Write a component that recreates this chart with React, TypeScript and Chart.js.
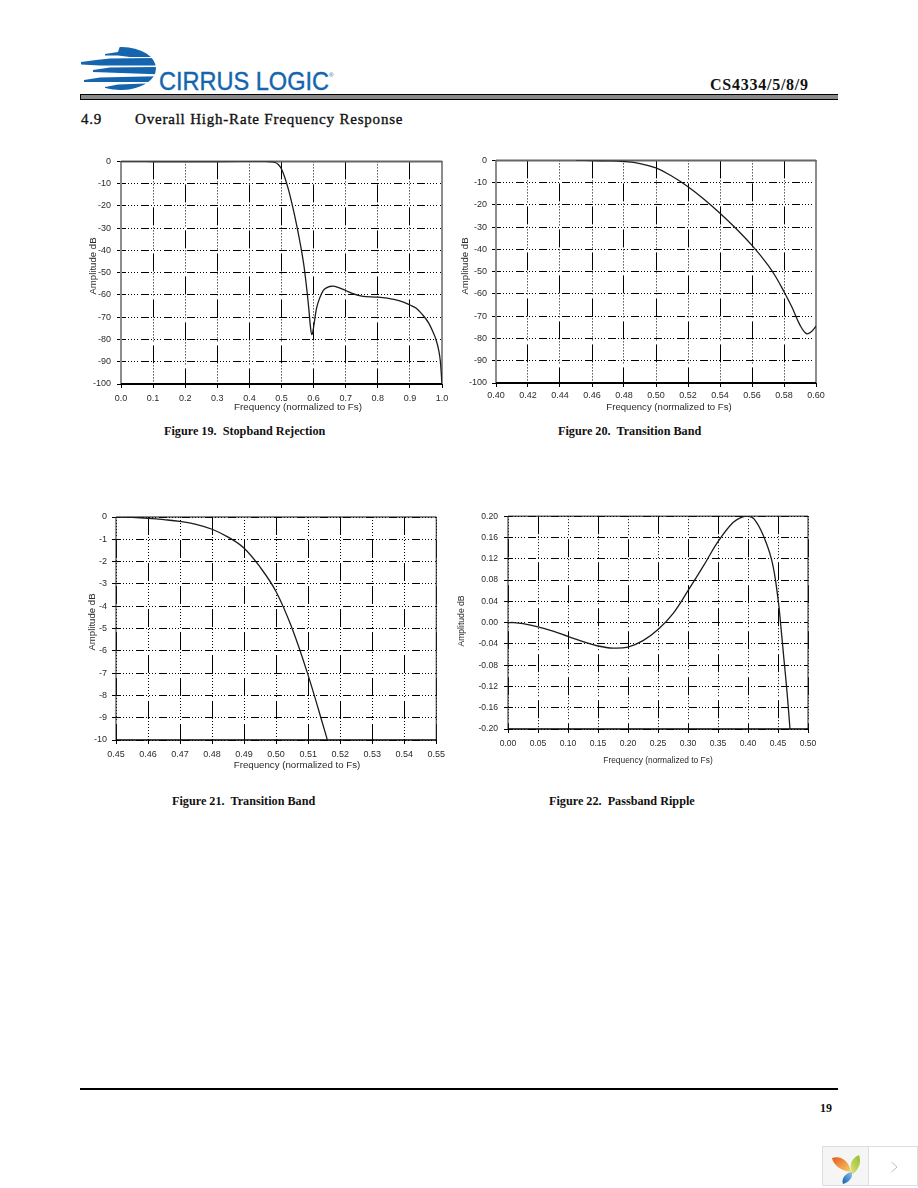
import React, { useEffect, useRef } from "react";
import { Chart, registerables } from "chart.js";

Chart.register(...registerables);

// Figure 19
const freq19 = [0, 0.05, 0.1, 0.2, 0.3, 0.4, 0.45, 0.47, 0.48, 0.49, 0.5, 0.51, 0.52, 0.53, 0.54, 0.55, 0.56, 0.57, 0.58, 0.585, 0.59, 0.594, 0.597, 0.6, 0.605, 0.61, 0.62, 0.63, 0.64, 0.65, 0.66, 0.68, 0.7, 0.72, 0.75, 0.8, 0.85, 0.88, 0.9, 0.92, 0.94, 0.95, 0.96, 0.97, 0.98, 0.99, 0.995, 1.0];
const amp19 = [0, 0, -0.04, -0.05, -0.05, -0.02, 0, -0.2, -0.5, -1.4, -3.4, -7.1, -11.8, -17.4, -23.7, -30.6, -38.2, -47, -59, -66, -74, -77.8, -77, -74.5, -69.5, -65.5, -61, -58, -56.8, -56.2, -56, -56.8, -58, -59.3, -60.5, -61, -62, -63.2, -64.5, -66, -69, -70.8, -73, -76, -79.5, -85, -90, -100];
const xTicks19 = [0, 0.1, 0.2, 0.3, 0.4, 0.5, 0.6, 0.7, 0.8, 0.9, 1.0];
const yTicks19 = [0, -10, -20, -30, -40, -50, -60, -70, -80, -90, -100];

// Figure 20
const freq20 = [0.45, 0.46, 0.47, 0.48, 0.49, 0.5, 0.51, 0.52, 0.53, 0.54, 0.55, 0.56, 0.57, 0.575, 0.58, 0.585, 0.59, 0.594, 0.597, 0.6];
const amp20 = [0, -0.05, -0.2, -0.5, -1.4, -3.4, -7.1, -11.8, -17.4, -23.7, -30.6, -38.2, -47, -52.5, -59, -66, -74, -77.8, -77, -74.5];
const xTicks20 = [0.4, 0.42, 0.44, 0.46, 0.48, 0.5, 0.52, 0.54, 0.56, 0.58, 0.6];
const yTicks20 = [0, -10, -20, -30, -40, -50, -60, -70, -80, -90, -100];

// Figure 21
const freq21 = [0.45, 0.455, 0.46, 0.465, 0.47, 0.475, 0.48, 0.485, 0.49, 0.495, 0.5, 0.505, 0.51, 0.515, 0.516];
const amp21 = [0, -0.02, -0.06, -0.12, -0.2, -0.33, -0.55, -0.9, -1.4, -2.25, -3.35, -5, -7.1, -9.5, -10];
const xTicks21 = [0.45, 0.46, 0.47, 0.48, 0.49, 0.5, 0.51, 0.52, 0.53, 0.54, 0.55];
const yTicks21 = [0, -1, -2, -3, -4, -5, -6, -7, -8, -9, -10];

// Figure 22
const freq22 = [0, 0.01, 0.025, 0.05, 0.075, 0.1, 0.125, 0.15, 0.175, 0.2, 0.225, 0.25, 0.275, 0.3, 0.325, 0.35, 0.375, 0.39, 0.4, 0.41, 0.425, 0.44, 0.45, 0.455, 0.46, 0.465, 0.47];
const amp22 = [0, 0, -0.002, -0.008, -0.016, -0.026, -0.036, -0.044, -0.048, -0.046, -0.034, -0.013, 0.017, 0.06, 0.105, 0.152, 0.188, 0.198, 0.2, 0.195, 0.165, 0.115, 0.045, -0.01, -0.07, -0.13, -0.2];
const xTicks22 = [0, 0.05, 0.1, 0.15, 0.2, 0.25, 0.3, 0.35, 0.4, 0.45, 0.5];
const yTicks22 = [0.2, 0.16, 0.12, 0.08, 0.04, 0, -0.04, -0.08, -0.12, -0.16, -0.2];

const xTitle = "Frequency (normalized to Fs)";
const yTitle = "Amplitude dB";

const SANS = '"Liberation Sans", Arial, sans-serif';
const SERIF = '"Liberation Serif", "Times New Roman", serif';
const H_DASH = [8, 2, 1, 2, 1, 2, 1, 2, 1, 3];
const V_DASH = [18, 2, 1, 2, 1, 2, 1, 2, 1, 2, 1, 2, 1, 2, 1, 2, 1, 4];

type Cfg = {
  freq: number[]; amp: number[]; xTicks: number[]; yTicks: number[];
  xDigits: number; yDigits: number;
  plot: [number, number, number, number]; // left, top, right, bottom
  canvas: [number, number, number, number]; // left, top, right, bottom
  labelPadX: number; labelPadY: number; tickFont: number; xTitleFont: number; yTitleFont: number;
  xTitlePos: [number, number]; yTitlePos: [number, number];
  frameGray: boolean; sharp: boolean;
};

function Plot({ c }: { c: Cfg }) {
  const ref = useRef<HTMLCanvasElement>(null);
  useEffect(() => {
    const [pl, pt, pr, pb] = c.plot;
    const [cl, ct, cr, cb] = c.canvas;
    const framePlugin = {
      id: "frameAndTitles",
      beforeDatasetsDraw(chart: any) {
        const { ctx, chartArea: a } = chart;
        ctx.save();
        const side = c.frameGray ? "#8c8c8c" : "#222";
        const top = c.frameGray ? "#666" : "#111";
        ctx.lineWidth = c.frameGray ? 2 : 1;
        ctx.strokeStyle = side;
        ctx.beginPath();
        ctx.moveTo(a.left, a.top); ctx.lineTo(a.left, a.bottom);
        ctx.moveTo(a.right, a.top); ctx.lineTo(a.right, a.bottom);
        ctx.stroke();
        ctx.strokeStyle = top;
        ctx.beginPath();
        ctx.moveTo(a.left, a.top); ctx.lineTo(a.right, a.top);
        ctx.stroke();
        ctx.strokeStyle = "#000";
        ctx.lineWidth = c.frameGray ? 2 : 1.5;
        ctx.beginPath();
        ctx.moveTo(a.left, a.bottom); ctx.lineTo(a.right, a.bottom);
        ctx.stroke();
        ctx.restore();
      },
      afterDraw(chart: any) {
        const { ctx } = chart;
        ctx.save();
        ctx.fillStyle = "#2a2a2a";
        ctx.textAlign = "center";
        ctx.textBaseline = "middle";
        ctx.font = `${c.xTitleFont}px ${SANS}`;
        ctx.fillText(xTitle, c.xTitlePos[0] - cl, c.xTitlePos[1] - ct);
        ctx.font = `${c.yTitleFont}px ${SANS}`;
        ctx.translate(c.yTitlePos[0] - cl, c.yTitlePos[1] - ct);
        ctx.rotate(-Math.PI / 2);
        ctx.fillText(yTitle, 0, 0);
        ctx.restore();
      },
    };
    const chart = new Chart(ref.current!, {
      type: "line",
      data: {
        datasets: [{
          data: c.freq.map((f, i) => ({ x: f, y: c.amp[i] })),
          borderColor: "#1c1c1c",
          borderWidth: 1.3,
          pointRadius: 0,
          ...(c.sharp ? { cubicInterpolationMode: "monotone" } : { tension: 0.4 }),
          fill: false,
        }],
      },
      options: {
        animation: false,
        responsive: false,
        maintainAspectRatio: false,
        devicePixelRatio: 1,
        layout: { padding: { left: 0, top: pt - ct, right: cr - pr, bottom: 0 } },
        plugins: { legend: { display: false }, tooltip: { enabled: false }, title: { display: false } },
        scales: {
          x: {
            type: "linear",
            min: c.xTicks[0],
            max: c.xTicks[c.xTicks.length - 1],
            afterBuildTicks: (s: any) => { s.ticks = c.xTicks.map((value) => ({ value })); },
            afterFit: (s: any) => { s.height = cb - pb; },
            grid: { color: "#000", lineWidth: 1, tickLength: 4, tickColor: "#000" },
            border: {
              display: false,
              dash: V_DASH,
              dashOffset: (ctx: any) => (ctx.index % 2 === 0 ? 23 : 0),
            },
            ticks: {
              autoSkip: false, maxRotation: 0, padding: c.labelPadX, color: "#2a2a2a",
              font: { family: SANS, size: c.tickFont },
              callback: (v: any) => Number(v).toFixed(c.xDigits),
            },
          },
          y: {
            type: "linear",
            min: c.yTicks[c.yTicks.length - 1],
            max: c.yTicks[0],
            afterBuildTicks: (s: any) => { s.ticks = [...c.yTicks].reverse().map((value) => ({ value })); },
            afterFit: (s: any) => { s.width = pl - cl; },
            grid: { color: "#000", lineWidth: 1, tickLength: 4, tickColor: "#000" },
            border: { display: false, dash: H_DASH, dashOffset: 3 },
            ticks: {
              autoSkip: false, padding: c.labelPadY, color: "#2a2a2a",
              font: { family: SANS, size: c.tickFont },
              callback: (v: any) => Number(v).toFixed(c.yDigits),
            },
          },
        },
      },
      plugins: [framePlugin],
    } as any);
    return () => chart.destroy();
  }, [c]);
  const [cl, ct, cr, cb] = c.canvas;
  return (
    <canvas
      ref={ref}
      width={cr - cl}
      height={cb - ct}
      style={{ position: "absolute", left: cl, top: ct, width: cr - cl, height: cb - ct, display: "block" }}
    />
  );
}

const cfg19: Cfg = { freq: freq19, amp: amp19, xTicks: xTicks19, yTicks: yTicks19, xDigits: 1, yDigits: 0,
  plot: [121, 160, 442, 384], canvas: [80, 150, 454, 416], labelPadX: 5, labelPadY: 6, tickFont: 9, xTitleFont: 9.8, yTitleFont: 9.6,
  xTitlePos: [298, 407], yTitlePos: [93, 266], frameGray: true, sharp: true };
const cfg20: Cfg = { freq: freq20, amp: amp20, xTicks: xTicks20, yTicks: yTicks20, xDigits: 2, yDigits: 0,
  plot: [496, 160, 816, 383], canvas: [458, 150, 830, 416], labelPadX: 3, labelPadY: 5, tickFont: 9, xTitleFont: 9.6, yTitleFont: 9.6,
  xTitlePos: [669, 407], yTitlePos: [465, 266], frameGray: true, sharp: false };
const cfg21: Cfg = { freq: freq21, amp: amp21, xTicks: xTicks21, yTicks: yTicks21, xDigits: 2, yDigits: 0,
  plot: [116, 517, 437, 740], canvas: [80, 505, 450, 775], labelPadX: 5, labelPadY: 5, tickFont: 9, xTitleFont: 9.7, yTitleFont: 9.6,
  xTitlePos: [297, 765], yTitlePos: [92, 622], frameGray: false, sharp: false };
const cfg22: Cfg = { freq: freq22, amp: amp22, xTicks: xTicks22, yTicks: yTicks22, xDigits: 2, yDigits: 2,
  plot: [508, 514, 808, 729], canvas: [456, 505, 825, 770], labelPadX: 5, labelPadY: 6, tickFont: 8.6, xTitleFont: 8.4, yTitleFont: 8.6,
  xTitlePos: [658, 761], yTitlePos: [462, 621], frameGray: false, sharp: false };

function T({ x, y, size, bold, children, spacing, stroke }: any) {
  return (
    <span style={{
      position: "absolute", left: x, top: y - size / 2, fontFamily: SERIF, fontSize: size, lineHeight: 1 + "",
      fontWeight: bold ? 700 : 400, color: "#111", whiteSpace: "pre", letterSpacing: spacing ?? "normal",
      WebkitTextStroke: stroke ?? undefined,
    }}>{children}</span>
  );
}

function Logo() {
  const blue = "#1565ae";
  return (
    <svg width={270} height={60} viewBox="80 42 270 60" style={{ position: "absolute", left: 80, top: 42 }}>
      <defs>
        <clipPath id="lg">
          <ellipse cx="122" cy="68.5" rx="34" ry="21.5" />
          <rect x="80" y="52" width="42" height="33" />
        </clipPath>
      </defs>
      <g clipPath="url(#lg)" fill={blue}>
        <path d="M105 54 L118 52 L120 46 L165 46 L165 57 L130 57 L118 55.5 L105 55.5 Z" />
        <path d="M81 62 L96 60 L110 58.5 L165 58 L165 65.5 L100 65.5 L81 64.5 Z" />
        <path d="M93 70 L110 67.5 L165 67 L165 74.5 L93 72 Z" />
        <path d="M84 80 L100 77.5 L165 76 L165 82 L84 82 Z" />
      </g>
      <path d="M105 87 L118 84.5 L146 83.5 C140 87 132 90 122 90 C114 90 110 89 105 88 Z" fill={blue} />
      <text x="159" y="90" fontFamily={SANS} fontSize="25" fill={blue} stroke={blue} strokeWidth="0.4" textLength="170" lengthAdjust="spacingAndGlyphs">CIRRUS LOGIC</text>
      <text x="329" y="77" fontFamily={SANS} fontSize="6" fill={blue}>®</text>
    </svg>
  );
}

function Badge() {
  return (
    <svg width={96} height={40} viewBox="822 1146 96 40" style={{ position: "absolute", left: 822, top: 1146 }}>
      <defs>
        <linearGradient id="o" x1="0" y1="0" x2="1" y2="1"><stop offset="0" stopColor="#e8581c" /><stop offset="1" stopColor="#f6d36a" /></linearGradient>
        <linearGradient id="g" x1="1" y1="0" x2="0" y2="1"><stop offset="0" stopColor="#8fbf2f" /><stop offset="1" stopColor="#e2e07a" /></linearGradient>
        <linearGradient id="b" x1="1" y1="0" x2="0" y2="1"><stop offset="0" stopColor="#8cc4e8" /><stop offset="1" stopColor="#0d62b0" /></linearGradient>
      </defs>
      <rect x="822.5" y="1146.5" width="46" height="39" fill="#f5f5f5" stroke="#ddd" />
      <rect x="868.5" y="1146.5" width="49" height="39" fill="#fff" stroke="#ddd" />
      <path d="M832 1158 C840 1155 849 1160 851 1172 C843 1171 834 1167 832 1158 Z" fill="url(#o)" />
      <path d="M859 1155 C862 1163 858 1170 853 1174 C848 1167 851 1158 859 1155 Z" fill="url(#g)" />
      <path d="M852 1172 C853 1178 849 1182 843 1184 C841 1179 845 1173 852 1172 Z" fill="url(#b)" />
      <path d="M891.5 1162 L897 1167 L891.5 1172" fill="none" stroke="#bdbdbd" strokeWidth="1" />
    </svg>
  );
}

export default function App() {
  return (
    <div style={{ position: "absolute", left: 0, top: 0, width: 918, height: 1188, background: "#fff", overflow: "hidden" }}>
      <Logo />
      <T x={710} y={85} size={16} bold spacing="0.75px">CS4334/5/8/9</T>
      <div style={{ position: "absolute", left: 80, top: 94, width: 757, height: 4, background: "#8a8a8a", borderTop: "1px solid #000", borderBottom: "1px solid #000", borderLeft: "1px solid #000" }} />
      <T x={81} y={119} size={15} stroke="0.35px #111" spacing="0.8px">4.9</T>
      <T x={135} y={119} size={15} stroke="0.35px #111" spacing="0.8px">Overall High-Rate Frequency Response</T>

      <Plot c={cfg19} />
      <Plot c={cfg20} />
      <Plot c={cfg21} />
      <Plot c={cfg22} />

      <T x={164} y={431} size={12.2} bold>{"Figure 19.  Stopband Rejection"}</T>
      <T x={558} y={431} size={12.2} bold>{"Figure 20.  Transition Band"}</T>
      <T x={172} y={801} size={12.2} bold>{"Figure 21.  Transition Band"}</T>
      <T x={549} y={801} size={12.2} bold>{"Figure 22.  Passband Ripple"}</T>

      <div style={{ position: "absolute", left: 80, top: 1088, width: 758, height: 2, background: "#000" }} />
      <T x={820} y={1108} size={12} bold>19</T>
      <Badge />
    </div>
  );
}
